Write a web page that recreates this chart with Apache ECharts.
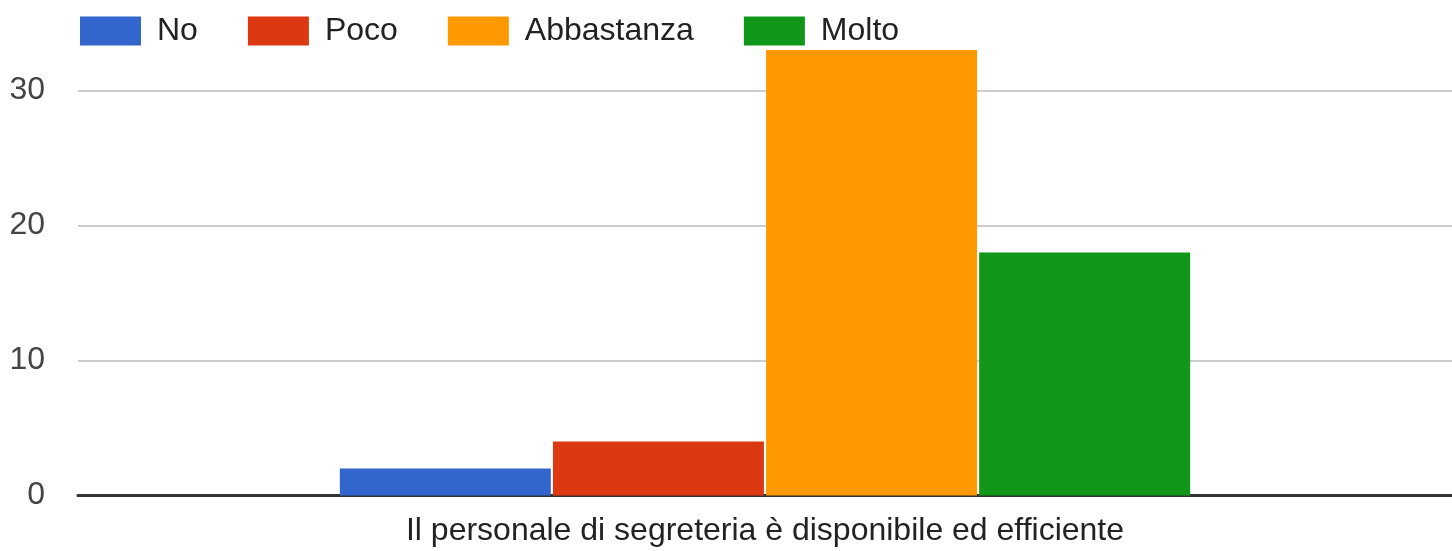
<!DOCTYPE html>
<html>
<head>
<meta charset="utf-8">
<title>Il personale di segreteria</title>
<script src="https://cdn.jsdelivr.net/npm/echarts@6/dist/echarts.min.js"></script>
<style>
  html, body { margin: 0; padding: 0; background: #fff; }
  #chart { width: 1452px; height: 551px; }
</style>
</head>
<body>
<div id="chart"></div>
<script>
const categories = ['Il personale di segreteria è disponibile ed efficiente'];
const seriesNames = ['No', 'Poco', 'Abbastanza', 'Molto'];
const noValues = [2];
const pocoValues = [4];
const abbastanzaValues = [33];
const moltoValues = [18];
const colors = ['#3366cc', '#dc3912', '#ff9900', '#109618'];

const font = 'Arial, "Liberation Sans", sans-serif';
const allValues = [noValues, pocoValues, abbastanzaValues, moltoValues];

const myChart = echarts.init(document.getElementById('chart'));
const option = {
  animation: false,
  textStyle: { fontFamily: font },
  legend: {
    left: 80,
    top: 15,
    padding: 0,
    itemWidth: 61,
    itemHeight: 29,
    itemGap: 50,
    icon: 'rect',
    data: seriesNames,
    textStyle: { fontSize: 32, color: '#222', fontFamily: font, padding: [0, 0, 0, 11] }
  },
  grid: { left: 78, right: 0, top: 50, bottom: 55.5, containLabel: false },
  xAxis: {
    type: 'category',
    data: categories,
    axisLine: { show: true, lineStyle: { color: '#333', width: 3 } },
    axisTick: { show: false },
    axisLabel: { fontSize: 32, color: '#222', margin: 20, fontFamily: font }
  },
  yAxis: {
    type: 'value',
    min: 0,
    max: 33,
    interval: 10,
    axisLine: { show: false },
    axisTick: { show: false },
    axisLabel: { fontSize: 32, color: '#444', margin: 33, showMaxLabel: false, fontFamily: font },
    splitLine: { show: true, showMinLine: false, showMaxLine: false, lineStyle: { color: '#cccccc', width: 2 } }
  },
  series: seriesNames.map((name, i) => ({
    name: name,
    type: 'bar',
    data: allValues[i],
    barWidth: 211,
    barGap: '1%',
    itemStyle: { color: colors[i] }
  }))
};
myChart.setOption(option);
window.addEventListener('resize', function () {
  myChart.resize();
});
</script>
</body>
</html>
